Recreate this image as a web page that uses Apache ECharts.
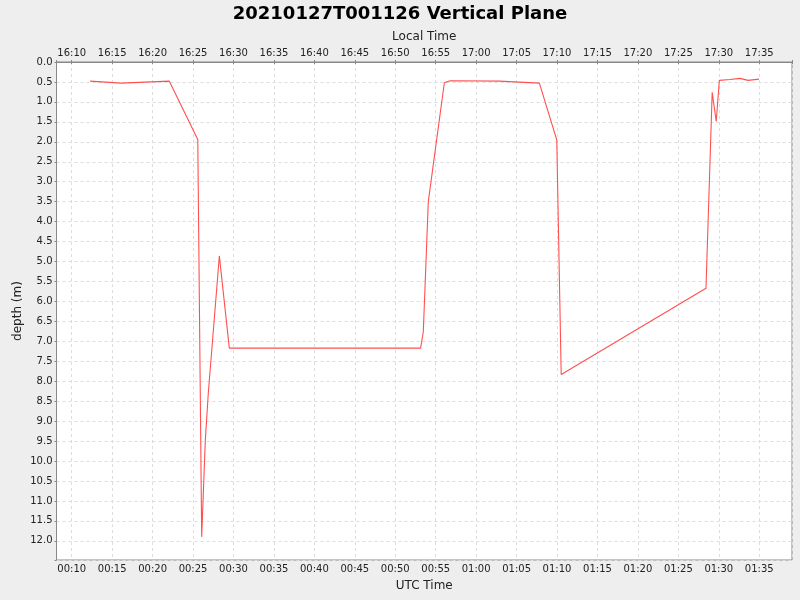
<!DOCTYPE html>
<html>
<head>
<meta charset="utf-8">
<script src="https://cdn.jsdelivr.net/npm/echarts@6/dist/echarts.min.js"></script>
<style>
  html, body { margin: 0; padding: 0; background: #eeeeee; }
  #chart { width: 800px; height: 600px; }
</style>
</head>
<body>
<div id="chart"></div>
<script>
// UTC time of each sample (2021-01-27) and its depth in metres
var times = ['00:12:16', '00:16:05', '00:16:18', '00:22:04', '00:25:35', '00:26:04', '00:26:31',
             '00:26:53', '00:28:15', '00:29:29', '00:53:08', '00:53:28', '00:54:05', '00:56:04',
             '00:56:46', '01:02:52', '01:02:57', '01:07:49', '01:09:58', '01:10:31', '01:28:25',
             '01:29:11', '01:29:41', '01:30:04', '01:31:23', '01:32:37', '01:33:38', '01:34:58'];
var depths = [0.48, 0.53, 0.48, 0.48, 1.94, 11.9, 9.47,
              8.3, 4.86, 7.17, 7.17, 6.76, 3.5, 0.52,
              0.47, 0.48, 0.51, 0.53, 1.95, 7.83, 5.67,
              0.76, 1.49, 0.46, 0.44, 0.41, 0.46, 0.43];
var axisStart = '00:08:07';
var axisEnd = '01:39:03';
var depthMax = 12.48;
var localOffsetMin = -8 * 60;

// minutes after 00:00 UTC
function toMin(s) {
    var p = s.split(':');
    return +p[0] * 60 + +p[1] + +p[2] / 60;
}
function pad(n) { return (n < 10 ? '0' : '') + n; }
function hhmm(m) {
    if (Math.abs(m / 5 - Math.round(m / 5)) > 1e-6) return '';
    m = ((Math.round(m) % 1440) + 1440) % 1440;
    return pad(Math.floor(m / 60)) + ':' + pad(m % 60);
}

var seriesData = times.map(function (t, i) { return [toMin(t), depths[i]]; });

var font = 'DejaVu Sans';
var chart = echarts.init(document.getElementById('chart'));

function timeAxis(pos, name, offsetMin) {
    return {
        type: 'value',
        position: pos,
        name: name,
        nameLocation: 'middle',
        nameGap: pos === 'top' ? 19 : 20,
        nameTextStyle: { fontFamily: font, fontSize: 12, color: '#222' },
        min: toMin(axisStart),
        max: toMin(axisEnd),
        splitNumber: 18,
        axisLine: { show: true, lineStyle: { color: '#888888', width: 1 } },
        axisTick: { show: true, length: 2, lineStyle: { color: '#888888' } },
        axisLabel: {
            fontFamily: font, fontSize: 10, color: '#222', margin: 4,
            formatter: function (v) { return hhmm(v + offsetMin); }
        },
        splitLine: pos === 'bottom'
            ? { show: true, lineStyle: { color: '#dddddd', type: [3, 3], width: 1 } }
            : { show: false }
    };
}

var option = {
    backgroundColor: '#eeeeee',
    animation: false,
    title: {
        text: '20210127T001126 Vertical Plane',
        left: 'center',
        top: 0,
        textStyle: { fontFamily: font, fontSize: 18, fontWeight: 'bold', color: '#000' }
    },
    grid: {
        left: 56.5, right: 8, top: 62, bottom: 40,
        show: true, backgroundColor: '#ffffff', borderColor: '#888888', borderWidth: 1
    },
    xAxis: [
        timeAxis('bottom', 'UTC Time', 0),
        timeAxis('top', 'Local Time', localOffsetMin)
    ],
    yAxis: {
        type: 'value',
        name: 'depth (m)',
        nameLocation: 'middle',
        nameGap: 33,
        nameMoveOverlap: false,
        nameTextStyle: { fontFamily: font, fontSize: 12, color: '#222' },
        inverse: true,
        min: 0,
        max: depthMax,
        interval: 0.5,
        axisLine: { show: true, lineStyle: { color: '#888888' } },
        axisTick: { show: true, length: 2, lineStyle: { color: '#888888' } },
        axisLabel: {
            fontFamily: font, fontSize: 10, color: '#222', margin: 4,
            formatter: function (v) {
                return Math.abs(v * 2 - Math.round(v * 2)) < 1e-6 ? v.toFixed(1) : '';
            }
        },
        splitLine: { show: true, lineStyle: { color: '#dddddd', type: [3, 3], width: 1 } }
    },
    series: [{
        type: 'line',
        xAxisIndex: 0,
        data: seriesData,
        showSymbol: false,
        symbol: 'none',
        lineStyle: { color: '#ff5050', width: 1.1 }
    }]
};
chart.setOption(option);
</script>
</body>
</html>
